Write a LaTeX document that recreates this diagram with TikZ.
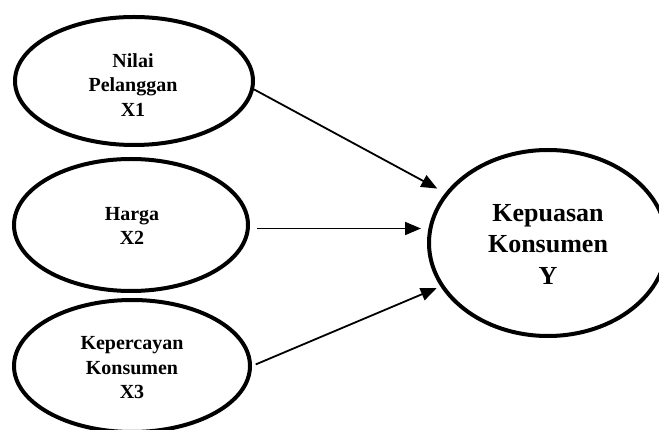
\documentclass[tikz,border=0pt]{standalone}
\usepackage{fontspec}
\setmainfont{Liberation Serif}
\usetikzlibrary{shapes.geometric,arrows.meta}
\tikzset{
  latent/.style={ellipse, draw, line width=4pt, inner sep=0pt},
  ltxt/.style={align=center, inner sep=0pt, font=\bfseries\fontsize{20}{24.5}\selectfont},
  btxt/.style={align=center, inner sep=0pt, font=\bfseries\fontsize{26}{31.5}\selectfont},
  arr/.style={line width=1.8pt, -{Triangle[length=16pt,width=13pt]}}
}
\begin{document}
\begin{tikzpicture}[x=1pt,y=-1pt]
\useasboundingbox[fill=white] (0,0) rectangle (659,430);
\clip (0,0) rectangle (659,430);
\node[latent, minimum width=238pt, minimum height=128pt] (e1) at (134,81) {};
\node[latent, minimum width=234pt, minimum height=132pt] (e2) at (131,225) {};
\node[latent, minimum width=236pt, minimum height=132pt] (e3) at (132,366) {};
\node[latent, minimum width=238pt, minimum height=186pt] (Y) at (548,243) {};
\node[ltxt] (t1) at ([xshift=-1pt,yshift=-4pt]e1.center) {Nilai\\Pelanggan\\X1};
\node[ltxt] (t2) at ([xshift=1pt,yshift=-1pt]e2.center) {Harga\\X2};
\node[ltxt] (t3) at ([yshift=-2pt]e3.center) {Kepercayan\\Konsumen\\X3};
\node[btxt] (tY) at ([yshift=-1pt]Y.center) {Kepuasan\\Konsumen\\Y};
\draw[arr, shorten >=9pt] (e1.-4) -- (Y.154);
\draw[arr, shorten >=6pt] ([xshift=7pt,yshift=-3.5pt]e2.east) -- ([yshift=-3.5pt]e2.east -| Y.west);
\draw[arr, shorten <=4pt, shorten >=4pt] (e3.east) -- (Y.202.5);
\end{tikzpicture}
\end{document}
